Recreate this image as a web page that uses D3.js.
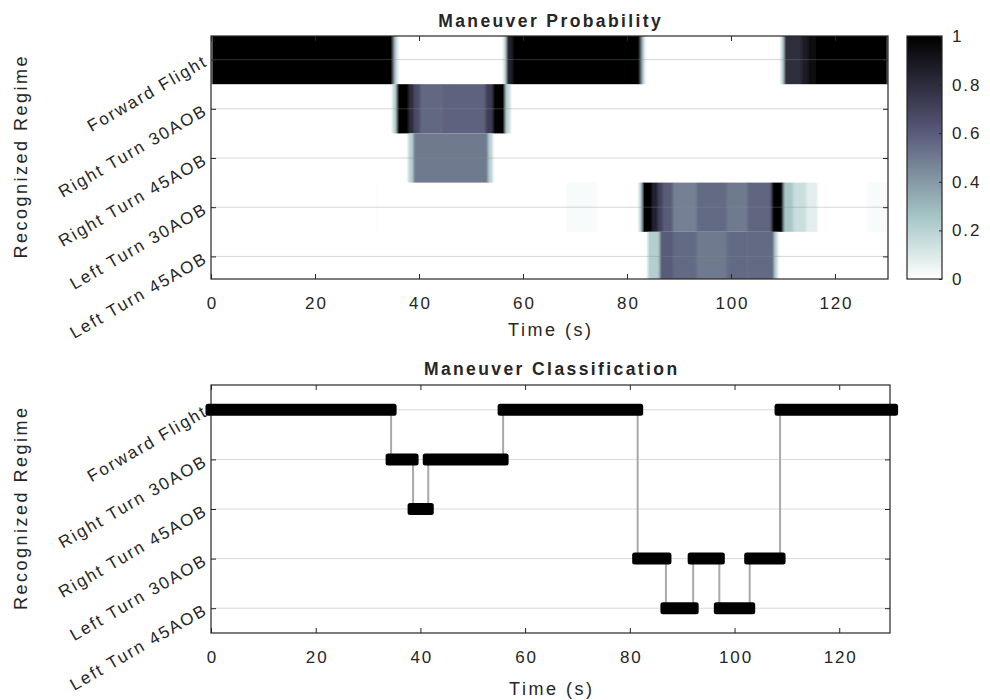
<!DOCTYPE html>
<html>
<head>
<meta charset="utf-8">
<script src="https://cdn.jsdelivr.net/npm/d3@7"></script>
<style>
  body { margin: 0; background: #fff; }
  svg text { font-family: "Liberation Sans", Arial, sans-serif; fill: #262626; }
</style>
</head>
<body>
<svg id="chart" width="990" height="700"></svg>
<script>
// ---- data -------------------------------------------------------------
const regimes = ["Forward Flight", "Right Turn 30AOB", "Right Turn 45AOB", "Left Turn 30AOB", "Left Turn 45AOB"];
const timeTicks = [0, 20, 40, 60, 80, 100, 120];
const colorTicks = [0, 0.2, 0.4, 0.6, 0.8, 1];

// regime probability over time, as [start (s), end (s), probability]
const probForward = [
  [0, 35.0, 1], [35.0, 35.4, 0.45], [35.4, 35.9, 0.15],
  [56.2, 56.8, 0.15], [56.8, 58.0, 0.85], [58.0, 82.6, 1], [82.6, 83.0, 0.45], [83.0, 83.4, 0.15],
  [109.6, 110.2, 0.2], [110.2, 113.6, 0.8], [113.6, 114.8, 0.87], [114.8, 116.0, 0.95], [116.0, 130.2, 1]
];
const probRight30 = [
  [34.9, 35.7, 0.18], [35.7, 38.0, 1], [38.0, 39.0, 0.8], [39.0, 40.2, 0.66], [40.2, 44.3, 0.56],
  [44.3, 52.8, 0.58], [52.8, 54.2, 0.72], [54.2, 56.6, 1], [56.6, 57.5, 0.18]
];
const probRight45 = [
  [37.9, 38.9, 0.2], [38.9, 53.3, 0.5], [53.3, 54.1, 0.2]
];
const probLeft30 = [
  [31.8, 32.1, 0.02], [68.3, 74.1, 0.02],
  [82.3, 82.9, 0.2], [82.9, 84.8, 1], [84.8, 85.9, 0.85], [85.9, 87.0, 0.7], [87.0, 88.8, 0.6],
  [88.8, 93.4, 0.48], [93.4, 99.2, 0.55], [99.2, 103.1, 0.5], [103.1, 107.8, 0.57], [107.8, 110.1, 1],
  [110.1, 112.0, 0.25], [112.0, 114.5, 0.15], [114.5, 116.5, 0.08], [126.2, 130.2, 0.02]
];
const probLeft45 = [
  [84.0, 86.3, 0.22], [86.3, 88.8, 0.6], [88.8, 93.4, 0.55], [93.4, 99.2, 0.5],
  [99.2, 103.1, 0.55], [103.1, 108.3, 0.55], [108.3, 108.9, 0.2]
];
const probRows = [probForward, probRight30, probRight45, probLeft30, probLeft45];

// classified regime: segment start, end (s) and regime index
const classStart  = [0, 34.4, 38.6, 41.5, 55.8, 81.5, 86.9, 92.1, 97.1, 102.9, 108.7];
const classEnd    = [34.4, 38.6, 41.5, 55.8, 81.5, 86.9, 92.1, 97.1, 102.9, 108.7, 130.2];
const classRegime = [0, 1, 2, 1, 0, 3, 4, 3, 4, 3, 0];

// ---- styling ----------------------------------------------------------
const INK = "#262626";
const TICK_FS = 17, TICK_LS = 1.9;
const LABEL_FS = 18, LABEL_LS = 2.5;
const TITLE_FS = 17.5, TITLE_LS = 2.4;

// MATLAB "bone" colormap, reversed so that 1 is black
function bone(t) {
  const hr = Math.min(1, t / 0.375);
  const hg = Math.max(0, Math.min(1, (t - 0.375) / 0.375));
  const hb = Math.max(0, Math.min(1, (t - 0.75) / 0.25));
  return d3.rgb(255 * (7 * t + hb) / 8, 255 * (7 * t + hg) / 8, 255 * (7 * t + hr) / 8);
}
const probColor = p => bone(1 - p).formatHex();

const svg = d3.select("#chart");
const defs = svg.append("defs");

// ---- scales -----------------------------------------------------------
const topBox = { l: 211, r: 888, t: 36, b: 279 };
const botBox = { l: 211, r: 890, t: 385, b: 633 };
const xTop = d3.scaleLinear().domain([0, 130.2]).range([topBox.l, topBox.r]);
const yTop = d3.scaleLinear().domain([0.5, 5.5]).range([35, 281]);
const xBot = d3.scaleLinear().domain([0, 129.7]).range([botBox.l, botBox.r]);
const yBot = d3.scaleLinear().domain([0.5, 5.5]).range([botBox.t, botBox.b]);
const levels = d3.range(1, regimes.length + 1);

function styleText(sel, fs, ls, weight) {
  sel.attr("font-size", fs).attr("letter-spacing", ls)
     .attr("font-family", null).style("font-weight", weight || "normal").attr("fill", INK);
}

// box, ticks on all four sides pointing inward, x labels, rotated y labels
function drawFrame(box, x, y, grid, xLabelGap) {
  const g = svg.append("g");
  if (grid) {
    g.append("g").selectAll("line").data(levels).join("line")
      .attr("x1", box.l).attr("x2", box.r)
      .attr("y1", d => y(d)).attr("y2", d => y(d))
      .attr("stroke", grid.color).attr("stroke-opacity", grid.opacity).attr("stroke-width", 1);
  }
  const ax = g.append("g").attr("transform", `translate(0,${box.b})`)
    .call(d3.axisBottom(x).tickValues(timeTicks).tickSizeInner(-5).tickSizeOuter(0).tickPadding(18));
  ax.select(".domain").remove();
  ax.selectAll("line").attr("stroke", INK);
  ax.selectAll("text").call(styleText, TICK_FS, TICK_LS).attr("dx", TICK_LS / 2);

  const axT = g.append("g").attr("transform", `translate(0,${box.t})`)
    .call(d3.axisTop(x).tickValues(timeTicks).tickSizeInner(-5).tickSizeOuter(0).tickFormat(""));
  axT.select(".domain").remove();
  axT.selectAll("line").attr("stroke", INK);

  const axL = g.append("g").attr("transform", `translate(${box.l},0)`)
    .call(d3.axisLeft(y).tickValues(levels).tickSizeInner(-5).tickSizeOuter(0).tickFormat(""));
  axL.select(".domain").remove();
  axL.selectAll("line").attr("stroke", INK);

  const axR = g.append("g").attr("transform", `translate(${box.r},0)`)
    .call(d3.axisRight(y).tickValues(levels).tickSizeInner(-5).tickSizeOuter(0).tickFormat(""));
  axR.select(".domain").remove();
  axR.selectAll("line").attr("stroke", INK);

  g.append("rect").attr("x", box.l).attr("y", box.t)
    .attr("width", box.r - box.l).attr("height", box.b - box.t)
    .attr("fill", "none").attr("stroke", INK).attr("stroke-width", 1.2);

  // regime names, rotated
  g.append("g").selectAll("text").data(regimes).join("text")
    .attr("transform", (d, i) => `translate(${box.l - 7 + TICK_LS * 0.87},${y(i + 1) - 1 + TICK_LS * 0.5}) rotate(-30)`)
    .attr("text-anchor", "end").attr("dy", "0.35em")
    .text(d => d)
    .call(styleText, TICK_FS, TICK_LS);

  g.append("text")
    .attr("transform", `translate(27,${(box.t + box.b) / 2}) rotate(-90)`)
    .attr("text-anchor", "middle").attr("dx", LABEL_LS / 2)
    .text("Recognized Regime").call(styleText, LABEL_FS, LABEL_LS);

  g.append("text")
    .attr("x", (box.l + box.r) / 2 + LABEL_LS / 2).attr("y", box.b + xLabelGap)
    .attr("text-anchor", "middle")
    .text("Time (s)").call(styleText, LABEL_FS, LABEL_LS);
  return g;
}

// ---- top: probability heat map ----------------------------------------
defs.append("clipPath").attr("id", "topClip").append("rect")
  .attr("x", topBox.l).attr("y", topBox.t)
  .attr("width", topBox.r - topBox.l).attr("height", topBox.b - topBox.t);
defs.append("filter").attr("id", "soft").attr("x", "-5%").attr("width", "110%")
  .append("feGaussianBlur").attr("stdDeviation", "0.9 0.3");

const heat = svg.append("g").attr("clip-path", "url(#topClip)")
  .append("g").attr("filter", "url(#soft)");
heat.append("rect").attr("x", topBox.l - 5).attr("y", topBox.t - 5)
  .attr("width", topBox.r - topBox.l + 10).attr("height", topBox.b - topBox.t + 10).attr("fill", "#fff");
probRows.forEach((row, i) => {
  heat.append("g").selectAll("rect").data(row).join("rect")
    .attr("x", d => xTop(d[0]))
    .attr("width", d => xTop(d[1]) - xTop(d[0]) + 0.4)
    .attr("y", yTop(i + 0.5))
    .attr("height", yTop(i + 1.5) - yTop(i + 0.5))
    .attr("fill", d => probColor(d[2]));
});

drawFrame(topBox, xTop, yTop, { color: "#8a8a8a", opacity: 0.35 }, 57);

svg.append("text").attr("x", (topBox.l + topBox.r) / 2 + TITLE_LS / 2).attr("y", 27)
  .attr("text-anchor", "middle").text("Maneuver Probability")
  .call(styleText, TITLE_FS, TITLE_LS, "bold");

// colour bar
const cb = { l: 907, r: 942, t: 36, b: 279 };
const grad = defs.append("linearGradient").attr("id", "boneGrad")
  .attr("x1", 0).attr("x2", 0).attr("y1", 1).attr("y2", 0);
grad.selectAll("stop").data(d3.range(0, 1.0001, 0.025)).join("stop")
  .attr("offset", d => d).attr("stop-color", d => probColor(d));
svg.append("rect").attr("x", cb.l).attr("y", cb.t)
  .attr("width", cb.r - cb.l).attr("height", cb.b - cb.t)
  .attr("fill", "url(#boneGrad)").attr("stroke", INK).attr("stroke-width", 1.2);
const yCb = d3.scaleLinear().domain([0, 1]).range([cb.b, cb.t]);
const axC = svg.append("g").attr("transform", `translate(${cb.r},0)`)
  .call(d3.axisRight(yCb).tickValues(colorTicks).tickSizeInner(-3).tickSizeOuter(0)
    .tickPadding(10).tickFormat(d3.format("~g")));
axC.select(".domain").remove();
axC.selectAll("line").attr("stroke", INK);
axC.selectAll("text").call(styleText, TICK_FS, TICK_LS);

// ---- bottom: classification -------------------------------------------
drawFrame(botBox, xBot, yBot, { color: "#d0d0d0", opacity: 0.8 }, 62);

svg.append("text").attr("x", (botBox.l + botBox.r) / 2 + TITLE_LS / 2).attr("y", 375)
  .attr("text-anchor", "middle").text("Maneuver Classification")
  .call(styleText, TITLE_FS, TITLE_LS, "bold");

const segs = classStart.map((s, i) => ({ s, e: classEnd[i], r: classRegime[i] }));
const cls = svg.append("g");
// vertical switches between consecutive regimes
cls.append("g").selectAll("line").data(segs.slice(1)).join("line")
  .attr("x1", d => xBot(d.s)).attr("x2", d => xBot(d.s))
  .attr("y1", (d, i) => yBot(segs[i].r + 1)).attr("y2", d => yBot(d.r + 1))
  .attr("stroke", "#a9a9a9").attr("stroke-width", 2);
// thick bars for each held regime
cls.append("g").selectAll("rect").data(segs).join("rect")
  .attr("x", d => xBot(d.s) - 5.5)
  .attr("width", d => xBot(d.e) - xBot(d.s) + 11)
  .attr("y", d => yBot(d.r + 1) - 6)
  .attr("height", 12).attr("rx", 2.5)
  .attr("fill", "#000");
</script>
</body>
</html>
